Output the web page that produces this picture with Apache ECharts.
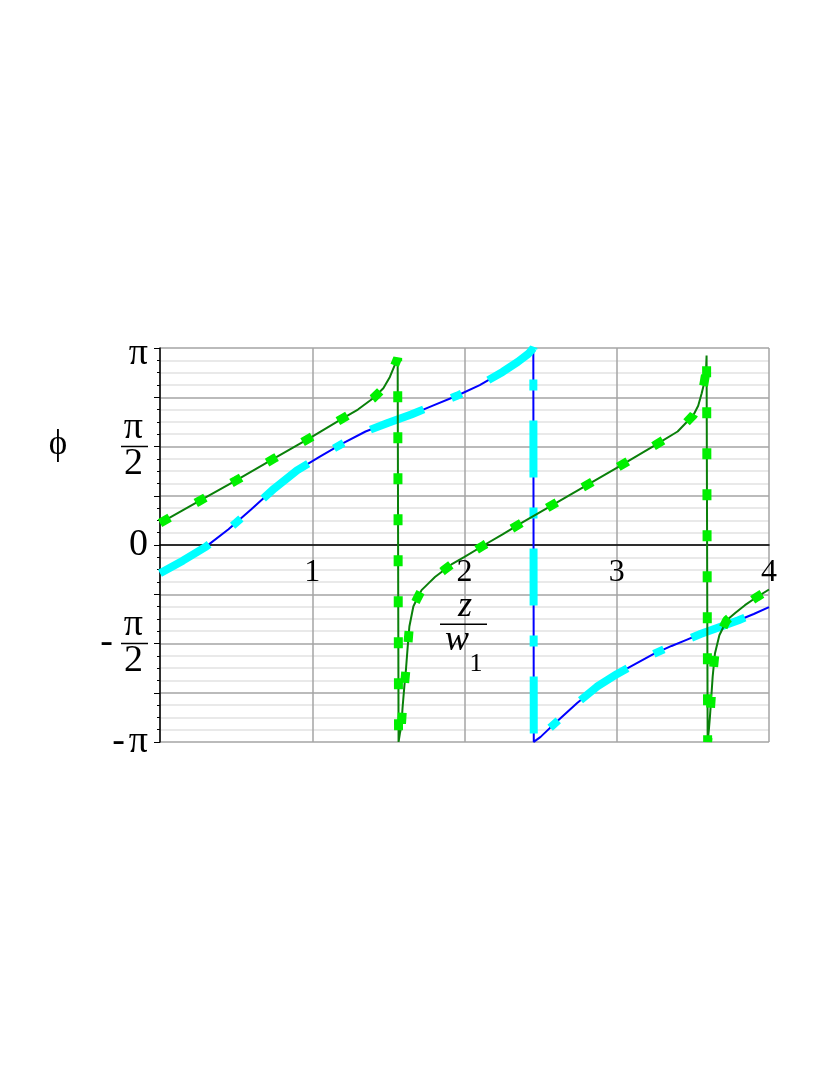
<!DOCTYPE html>
<html>
<head>
<meta charset="utf-8">
<script src="https://cdn.jsdelivr.net/npm/echarts@6/dist/echarts.min.js"></script>
<style>
  html, body { margin: 0; padding: 0; background: #fff; }
  #chart { width: 830px; height: 1075px; }
</style>
</head>
<body>
<div id="chart"></div>
<script>
// phase curves: x = z/w1, y = phi (rad)
const zBlue = [0, 0.15, 0.3, 0.45, 0.6, 0.75, 0.9, 1.05, 1.2, 1.35, 1.5, 1.65, 1.8, 1.95, 2.1, 2.25, 2.35, 2.42, 2.452,
  2.455, 2.5, 2.56, 2.65, 2.74, 2.87, 3.0, 3.12, 3.24, 3.36, 3.45, 3.55, 3.65, 3.8, 3.9, 4.0]
const phiBlue = [-0.45, -0.25, -0.03, 0.25, 0.57, 0.9, 1.19, 1.41, 1.62, 1.81, 1.95, 2.08, 2.23, 2.38, 2.55, 2.76, 2.92, 3.05, 3.14,
  -3.14, -3.06, -2.92, -2.72, -2.52, -2.26, -2.06, -1.9, -1.74, -1.61, -1.52, -1.42, -1.33, -1.2, -1.1, -0.99]

const zGreen = [0, 0.25, 0.5, 0.75, 1.0, 1.2, 1.3, 1.4, 1.467, 1.51, 1.537, 1.561,
  1.567, 1.576, 1.585, 1.593, 1.605, 1.616, 1.627, 1.638, 1.664, 1.69, 1.718, 1.76, 1.806, 1.86, 1.92, 2.0, 2.13, 2.25,
  2.386, 2.5, 2.75, 3.0, 3.25, 3.4, 3.503, 3.535, 3.558, 3.572, 3.586, 3.59,
  3.597, 3.605, 3.612, 3.62, 3.63, 3.645, 3.674, 3.722, 3.78, 3.842, 3.92, 4.0]
const phiGreen = [0.35, 0.69, 1.03, 1.38, 1.73, 2.02, 2.16, 2.34, 2.5, 2.68, 2.84, 2.98,
  -3.14, -3.0, -2.9, -2.6, -2.25, -1.97, -1.62, -1.3, -0.98, -0.85, -0.72, -0.62, -0.51, -0.41, -0.3, -0.19, 0.0, 0.17,
  0.37, 0.53, 0.88, 1.23, 1.59, 1.81, 2.07, 2.22, 2.42, 2.56, 2.76, 3.02,
  -3.14, -2.95, -2.74, -2.46, -2.1, -1.73, -1.44, -1.2, -1.08, -0.96, -0.83, -0.71]

// tick labels
const xTickLabels = ['', '1', '2', '3', '4']
const yQuarter = Math.PI / 4
const yTickLabels = ['-π', '', '-π/2', '', '0', '', 'π/2', '', 'π']

const serif = '"Liberation Serif", "DejaVu Serif", serif'
const gridTop = 348
const gridBottom = 333
const plotHeight = 1075 - gridTop - gridBottom

function pairs(xs, ys) {
  return xs.map((x, i) => [x, ys[i]])
}

const chart = echarts.init(document.getElementById('chart'))

const option = {
  animation: false,
  backgroundColor: '#fff',
  grid: { left: 160, top: gridTop, right: 61, bottom: gridBottom },
  xAxis: {
    type: 'value',
    min: 0,
    max: 4,
    interval: 1,
    // phi = 0 sits in the middle of the symmetric y range
    offset: -plotHeight / 2,
    axisLine: { onZero: false, lineStyle: { color: '#000', width: 1.5 } },
    axisTick: { show: false },
    axisLabel: {
      margin: 12,
      color: '#000',
      fontFamily: serif,
      fontSize: 32,
      formatter: v => xTickLabels[Math.round(v)] || ''
    },
    splitLine: { show: true, lineStyle: { color: '#a5a5a5', width: 1.5 } }
  },
  yAxis: {
    type: 'value',
    min: -Math.PI,
    max: Math.PI,
    interval: yQuarter,
    axisLine: { onZero: false, lineStyle: { color: '#000', width: 1.5 } },
    axisTick: { show: true, length: 6, lineStyle: { color: '#000' } },
    minorTick: { show: true, splitNumber: 4, length: 3, lineStyle: { color: '#000' } },
    splitLine: { show: true, lineStyle: { color: '#a5a5a5', width: 1.5 } },
    minorSplitLine: { show: true, lineStyle: { color: '#e2e2e2', width: 1.5 } },
    axisLabel: {
      margin: 12,
      color: '#000',
      fontFamily: serif,
      fontSize: 38,
      formatter: function (v) {
        const lab = yTickLabels[Math.round(v / yQuarter) + 4] || ''
        if (lab === 'π') return '{top|π}'
        if (lab === 'π/2') return '{n|π}\n{bar|}\n{n|2}'
        if (lab === '-π/2') return '{n|π}\n{m|-}{bar|}\n{n|2}'
        if (lab === '-π') return '{mm|-}{t|π}'
        if (lab === '0') return '{t|0}'
        return ''
      },
      rich: {
        top: { fontFamily: serif, fontSize: 38, padding: [12, 0, 0, 0] },
        t: { fontFamily: serif, fontSize: 38 },
        mm: { fontFamily: serif, fontSize: 38, padding: [0, 4, 0, 0] },
        n: { fontFamily: serif, fontSize: 38, align: 'right', padding: [0, 5, 0, 0], lineHeight: 32 },
        bar: { width: 27, height: 1.5, lineHeight: 4, backgroundColor: '#000', align: 'right' },
        m: { fontFamily: serif, fontSize: 38, lineHeight: 4, padding: [0, 8, 0, 0] }
      }
    }
  },
  graphic: [
    { type: 'text', z: 100, x: 58, y: 445, style: { text: 'ϕ', fontFamily: serif, fontSize: 35, fill: '#000', align: 'center', verticalAlign: 'middle' } },
    { type: 'text', z: 100, x: 465, y: 607, style: { text: 'z', fontFamily: serif, fontStyle: 'italic', fontSize: 36, fill: '#000', align: 'center', verticalAlign: 'middle' } },
    { type: 'rect', z: 100, shape: { x: 440, y: 623.5, width: 47, height: 1.5 }, style: { fill: '#000' } },
    { type: 'text', z: 100, x: 457, y: 641, style: { text: 'w', fontFamily: serif, fontStyle: 'italic', fontSize: 36, fill: '#000', align: 'center', verticalAlign: 'middle' } },
    { type: 'text', z: 100, x: 476, y: 664, style: { text: '1', fontFamily: serif, fontSize: 26, fill: '#000', align: 'center', verticalAlign: 'middle' } }
  ],
  series: [
    {
      name: 'phase 1',
      type: 'line',
      showSymbol: false,
      data: pairs(zBlue, phiBlue),
      lineStyle: { color: '#0000ff', width: 2 }
    },
    {
      name: 'phase 1 dash',
      type: 'line',
      showSymbol: false,
      data: pairs(zBlue, phiBlue),
      lineStyle: { color: '#00ffff', width: 8, type: [57, 30, 11, 30], cap: 'butt' }
    },
    {
      name: 'phase 2',
      type: 'line',
      showSymbol: false,
      data: pairs(zGreen, phiGreen),
      lineStyle: { color: '#0a800a', width: 2 }
    },
    {
      name: 'phase 2 dot',
      type: 'line',
      showSymbol: false,
      data: pairs(zGreen, phiGreen),
      lineStyle: { color: '#00f000', width: 9, type: [11, 30], cap: 'butt' }
    }
  ]
}

chart.setOption(option)
</script>
</body>
</html>
